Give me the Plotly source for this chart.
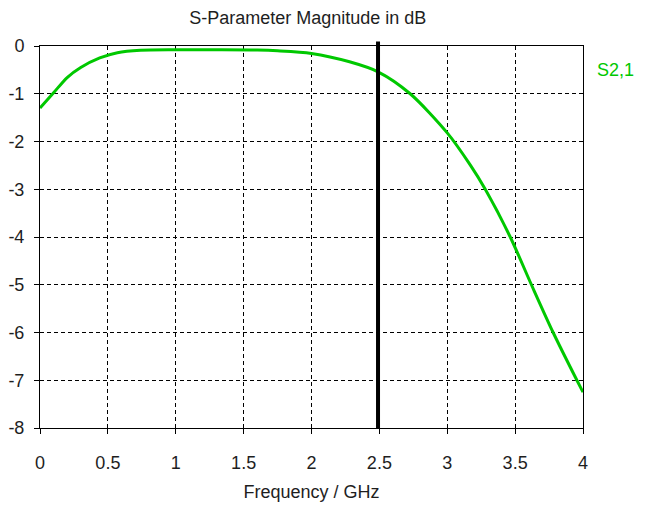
import plotly.graph_objects as go

freq_ghz = [0.0, 0.1, 0.2, 0.3, 0.44, 0.57, 0.74, 1.0, 1.3, 1.6, 1.75, 2.0,
            2.28, 2.49, 2.727, 3.0, 3.169, 3.28, 3.464, 3.62, 3.78, 3.955, 4.0]
s21_db = [-1.30, -0.98, -0.66, -0.45, -0.25, -0.14, -0.09, -0.08, -0.08, -0.085,
          -0.10, -0.155, -0.33, -0.54, -1.0, -1.82, -2.49, -3.0, -4.0, -5.0, -6.0,
          -7.0, -7.25]
marker_ghz = 2.49
series_name = "S2,1"
x_ticks = [0, 0.5, 1, 1.5, 2, 2.5, 3, 3.5, 4]
x_tick_labels = ["0", "0.5", "1", "1.5", "2", "2.5", "3", "3.5", "4"]
y_ticks = [0, -1, -2, -3, -4, -5, -6, -7, -8]
y_tick_labels = ["0", "-1", "-2", "-3", "-4", "-5", "-6", "-7", "-8"]

GREEN = "rgb(0,200,0)"
FONT = "Liberation Sans"
TEXT = "rgb(30,30,30)"
FS = 18

fig = go.Figure()
fig.add_trace(go.Scatter(x=freq_ghz, y=s21_db, mode="lines",
                         line=dict(color=GREEN, width=3, shape="spline", smoothing=0.8),
                         showlegend=False, name=series_name, hoverinfo="skip"))

fig.add_shape(type="line", xref="x", yref="paper", x0=marker_ghz, x1=marker_ghz,
              y0=0, y1=1.012, line=dict(color="black", width=4))

fig.add_annotation(xref="paper", yref="paper", x=1.06, y=0.937, text=series_name,
                   showarrow=False, xanchor="center", yanchor="middle",
                   font=dict(family=FONT, size=FS, color=GREEN))

axis_common = dict(showline=True, linecolor="black", linewidth=1, mirror=True,
                   showgrid=True, gridcolor="black", gridwidth=1, griddash="4px,3px",
                   ticks="outside", ticklen=5, tickcolor="black", zeroline=False,
                   automargin=False,
                   tickfont=dict(family=FONT, size=FS, color=TEXT))

# page body has an 8px margin, so the figure is shrunk by 8px on the top/left
fig.update_layout(
    width=639, height=501,
    margin=dict(l=32, r=64, t=38, b=81),
    paper_bgcolor="white", plot_bgcolor="white",
    title=dict(text="S-Parameter Magnitude in dB", x=0.469, xanchor="center",
               y=1 - 10 / 501, yanchor="middle", yref="container",
               font=dict(family=FONT, size=FS, color=TEXT)),
    xaxis=dict(range=[0, 4], tickvals=x_ticks, ticktext=x_tick_labels,
               ticklabelstandoff=13,
               title=dict(text="Frequency / GHz", standoff=13,
                          font=dict(family=FONT, size=FS, color=TEXT)),
               **axis_common),
    yaxis=dict(range=[-8, 0], tickvals=y_ticks, ticktext=y_tick_labels,
               ticklabelstandoff=6, **axis_common),
)

fig.write_html("out.html")
